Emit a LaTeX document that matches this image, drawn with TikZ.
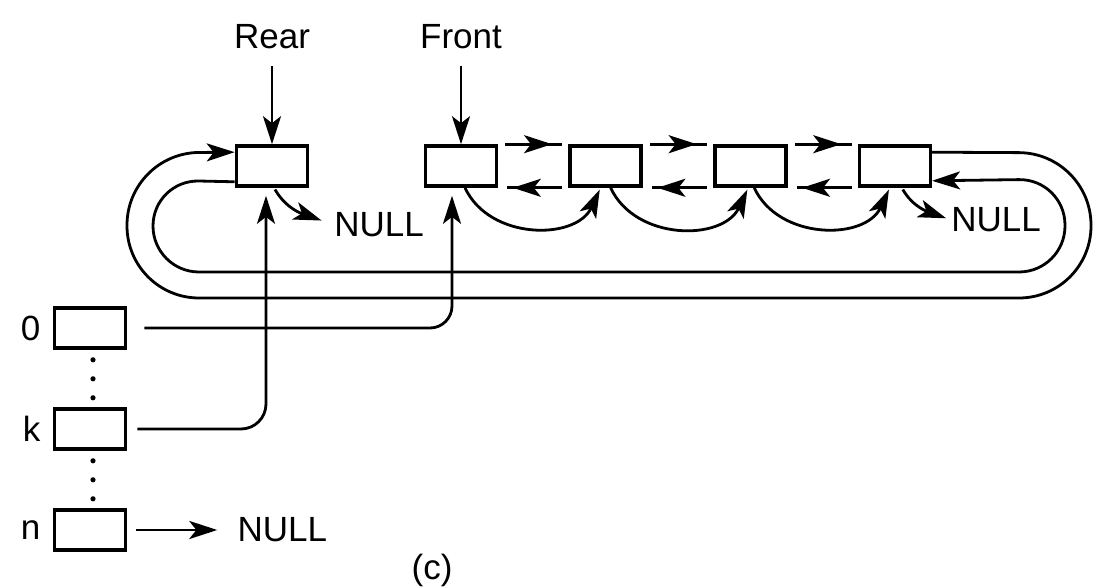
\documentclass[tikz,border=0pt]{standalone}
\usepackage{fontspec}
\setmainfont{Liberation Sans}
\usepackage{tikz}
\usetikzlibrary{arrows.meta, positioning, decorations.markings}

\begin{document}
\begin{tikzpicture}[x=0.5pt, y=0.5pt,
  >={Stealth[length=14pt, width=9pt, inset=3.5pt]},
  cell/.style={draw, line width=1.8pt, minimum width=35.5pt, minimum height=20pt, inner sep=0pt},
  lbl/.style={inner sep=0pt, font=\fontsize{17.5}{20}\selectfont},
  link/.style={line width=1.4pt, ->},
  fwd/.style={line width=1.4pt, postaction=decorate,
              decoration={markings, mark=at position 0.82 with {\arrow{>}}}},
  bwd/.style={line width=1.4pt, postaction=decorate,
              decoration={markings, mark=at position 0.9 with {\arrow{>}}}},
  dots/.style={line width=2.6pt, line cap=round, dash pattern=on 0pt off 9.5pt,
               shorten <=5pt, shorten >=4.6pt}
]
  \useasboundingbox (0,0) rectangle (1094,-587);

  \node[cell] (rear)  at (272,-166) {};
  \node[cell] (front) at (461,-166) {};
  \node[cell, right=35pt of front] (n3) {};
  \node[cell, right=35pt of n3] (n4) {};
  \node[cell, right=35pt of n4] (n5) {};

  \node[cell] (a0) at (90,-328) {};
  \node[cell] (ak) at (90,-429) {};
  \node[cell] (an) at (90,-530) {};

  \node[lbl, above=47.5pt of rear]  (lrear)  {Rear};
  \node[lbl, above=47.5pt of front] (lfront) {Front};
  \node[lbl, left=6pt of a0] (l0) {0};
  \node[lbl, left=6pt of ak] (lk) {k};
  \node[lbl, left=6pt of an] (ln) {n};
  \node[lbl] (nullr) at (379,-225) {NULL};
  \node[lbl] (null5) at (996,-220) {NULL};
  \node[lbl, right=55pt of an] (nulln) {NULL};
  \node[lbl] (cap) at (432,-570) {(c)};

  \draw[link, shorten <=8.5pt] (lrear) -- (rear);
  \draw[link, shorten <=8.5pt] (lfront.south -| front.north) -- (front);

  \draw[fwd] ([xshift=3.5pt]front.north east) -- ([xshift=-3pt]n3.north west);
  \draw[fwd] ([xshift=3.5pt]n3.north east) -- ([xshift=-3pt]n4.north west);
  \draw[fwd] ([xshift=3.5pt]n4.north east) -- ([xshift=-3pt]n5.north west);
  \draw[bwd] ([xshift=-3pt]n3.south west) -- ([xshift=4.5pt]front.south east);
  \draw[bwd] ([xshift=-3pt]n4.south west) -- ([xshift=4.5pt]n3.south east);
  \draw[bwd] ([xshift=-3pt]n5.south west) -- ([xshift=4.5pt]n4.south east);

  \draw[link, shorten >=1pt] ([xshift=2pt]front.south) to[out=-65, in=-115, looseness=1.1] ([xshift=-2.5pt]n3.south);
  \draw[link, shorten >=1pt] ([xshift=2.5pt]n3.south) to[out=-65, in=-115, looseness=1.1] ([xshift=-1pt]n4.south);
  \draw[link, shorten >=1pt] ([xshift=2pt]n4.south) to[out=-65, in=-115, looseness=1.1] ([xshift=-2.5pt]n5.south);

  \draw[link, shorten <=1pt, shorten >=6.5pt] ([xshift=1pt]rear.south) to[out=-60, in=160] (nullr.west);
  \draw[link, shorten <=1pt, shorten >=2.5pt] ([xshift=3.5pt]n5.south) to[out=-60, in=160] (null5.west);

  \draw[link, rounded corners=36pt] ([yshift=-4pt]n5.north east) -- (1091,-153) -- (1091,-298)
    -- (127,-298) -- (127,-153) -- ([yshift=-4pt]rear.north west);
  \draw[link, rounded corners=23pt] ([yshift=3pt]rear.south west) -- (153,-180) -- (153,-272)
    -- (1065,-272) -- (1065,-179) -- ([yshift=3.5pt]n5.south east);

  \draw[link, rounded corners=11pt] ([xshift=8.5pt]a0.east) -| ([xshift=-4.5pt, yshift=-4pt]front.south);
  \draw[link, rounded corners=12.5pt] ([xshift=5pt]ak.east) -| ([xshift=-3pt, yshift=-4pt]rear.south);
  \draw[link, shorten >=10pt] ([xshift=4.5pt]an.east) -- (nulln.west);

  \draw[dots] ([xshift=1.5pt]a0.south) -- ([xshift=1.5pt]ak.north);
  \draw[dots] ([xshift=1.5pt]ak.south) -- ([xshift=1.5pt]an.north);
\end{tikzpicture}
\end{document}
